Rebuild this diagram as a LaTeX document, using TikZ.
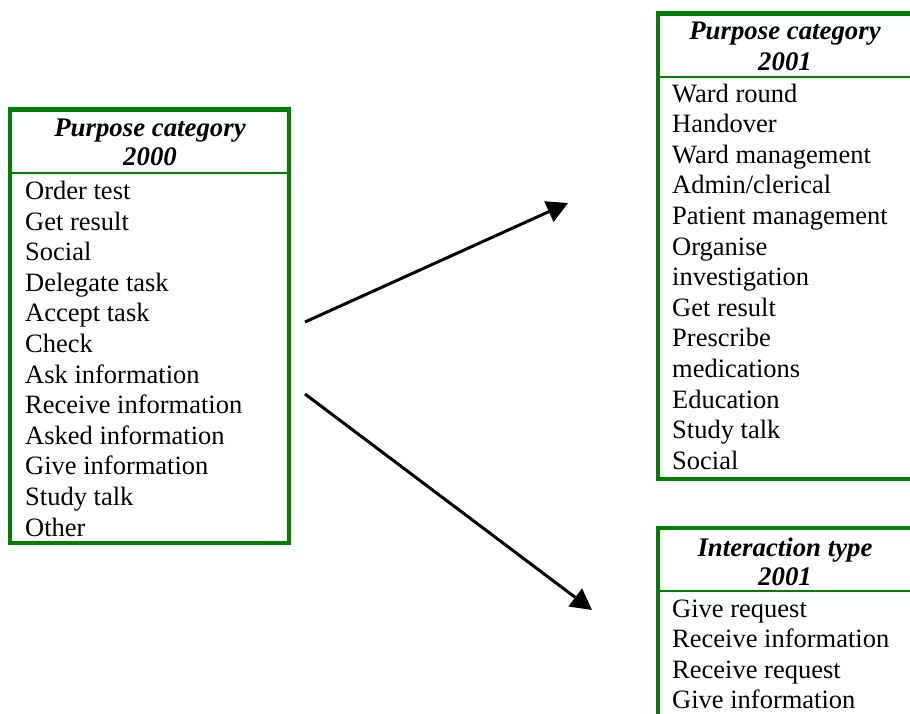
\documentclass[tikz,border=0pt]{standalone}
\usepackage{fontspec}
\setmainfont{Liberation Serif}
\usetikzlibrary{arrows.meta}
\definecolor{boxgreen}{RGB}{0,128,0}
\tikzset{
  boxframe/.style={draw=boxgreen, line width=4.5pt, inner sep=0pt, outer sep=0pt, anchor=north west},
  sepline/.style={draw=boxgreen, line width=2.5pt},
  headtext/.style={font=\fontsize{26.8}{30}\selectfont\bfseries\itshape, anchor=base, inner sep=0pt},
  itemtext/.style={font=\fontsize{26.5}{30}\selectfont, anchor=base west, inner sep=0pt},
  arr/.style={line width=3pt, -{Triangle[length=21pt,width=22pt]}}
}
\begin{document}
\begin{tikzpicture}[x=1pt,y=-1pt]
\useasboundingbox (0,0) rectangle (910,713);
\clip (0,0) rectangle (910,713);
\fill[white] (0,0) rectangle (910,713);
% left box
\node[boxframe, minimum width=279pt, minimum height=433.5pt] (boxA) at (10,109.5) {};
\draw[sepline] (boxA.west |- 0,173) -- (boxA.east |- 0,173);
\node[headtext] (hA1) at (150,136.5) {Purpose category};
\node[headtext] (hA2) at (150,165.5) {2000};
\foreach \t [count=\i] in {Order test, Get result, Social, Delegate task, Accept task, Check, Ask information, Receive information, Asked information, Give information, Study talk, Other}
  \node[itemtext] (a\i) at (25,{199.5+30.6*(\i-1)}) {\t};
% right top box
\node[boxframe, minimum width=254pt, minimum height=465.5pt] (boxB) at (658,13.7) {};
\draw[sepline] (boxB.west |- 0,77) -- (boxB.east |- 0,77);
\node[headtext] (hB1) at (785,39) {Purpose category};
\node[headtext] (hB2) at (785,70) {2001};
\foreach \t [count=\i] in {Ward round, Handover, Ward management, Admin/clerical, Patient management, Organise, investigation, Get result, Prescribe, medications, Education, Study talk, Social}
  \node[itemtext] (b\i) at (672,{102+30.6*(\i-1)}) {\t};
% right bottom box
\node[boxframe, minimum width=254pt, minimum height=220pt] (boxC) at (658,528) {};
\draw[sepline] (boxC.west |- 0,591) -- (boxC.east |- 0,591);
\node[headtext] (hC1) at (785,556.5) {Interaction type};
\node[headtext] (hC2) at (785,585.5) {2001};
\foreach \t [count=\i] in {Give request, Receive information, Receive request, Give information}
  \node[itemtext] (c\i) at (672,{617+30.5*(\i-1)}) {\t};
% arrows
\coordinate (s1) at (305,322);
\coordinate (t1) at (568,203);
\coordinate (s2) at (305,394);
\coordinate (t2) at (592,610);
\draw[arr] (s1) -- (t1);
\draw[arr] (s2) -- (t2);
\end{tikzpicture}
\end{document}
